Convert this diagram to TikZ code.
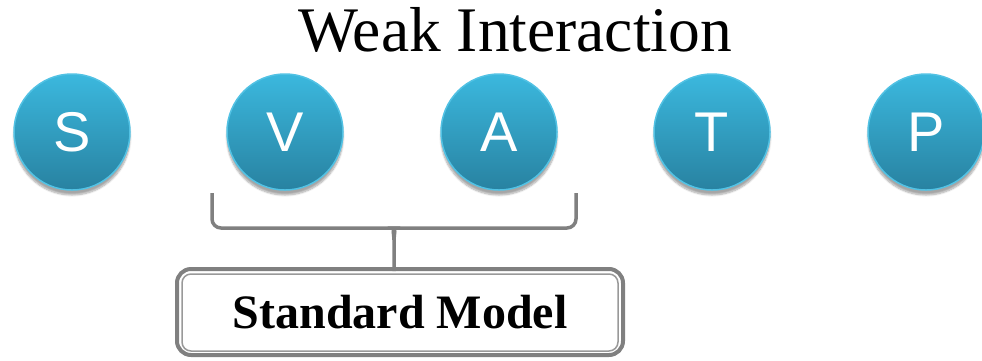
\documentclass[tikz,border=0pt]{standalone}
\usepackage{fontspec}
\setmainfont{Liberation Serif}
\newfontfamily\letterfont{Liberation Sans}
\usetikzlibrary{shadows.blur}
\definecolor{balltop}{HTML}{3BB8DE}
\definecolor{ballbot}{HTML}{2882A1}
\definecolor{ballrim}{HTML}{52C2E4}
\definecolor{bracegray}{HTML}{808080}
\tikzset{
  ball/.style={circle, minimum size=116pt, inner sep=0pt,
    top color=balltop, bottom color=ballbot, draw=ballrim, line width=1.5pt,
    blur shadow={shadow xshift=0pt, shadow yshift=-5pt, shadow blur steps=8, shadow opacity=35},
    text=white, font=\letterfont\fontsize{56}{60}\selectfont},
  bracket/.style={draw=bracegray, line width=3.5pt, rounded corners=9pt}
}
\begin{document}
\begin{tikzpicture}[x=1pt,y=-1pt]
  \useasboundingbox (0,0) rectangle (982,360);
  \draw
    (515,30) node (title){\fontsize{63.5}{66}\selectfont Weak Interaction};
  \draw
    (72,132) node[ball] (s){S}
    (285,132) node[ball] (v){V}
    (499,132) node[ball] (a){A}
    (712,132) node[ball] (t){T}
    (926,132) node[ball] (p){P};
  \draw
    (400,312) node[minimum width=446pt, minimum height=86pt, rounded corners=14pt,
      draw=bracegray, line width=4pt] (sm){\fontsize{48}{50}\selectfont\bfseries Standard Model};
  \draw[draw=bracegray!80, line width=1.5pt, rounded corners=9pt]
    ([xshift=7pt,yshift=-7pt]sm.north west) rectangle ([xshift=-7pt,yshift=6pt]sm.south east);
  % brace under V and A
  \coordinate (bl) at (212,193);
  \coordinate (br) at (576,193);
  \coordinate (tip) at ([yshift=-4pt]sm.north -| 394,0);
  \begin{scope}[bracket]
    \draw (bl) -- (bl |- 0,228) -- ([xshift=-8pt]tip |- 0,228)
      [sharp corners] to[out=0,in=90] (tip |- 0,240) -- (tip);
    \draw (br) -- (br |- 0,228) -- ([xshift=8pt]tip |- 0,228)
      [sharp corners] to[out=180,in=90] (tip |- 0,240);
  \end{scope}
\end{tikzpicture}
\end{document}
